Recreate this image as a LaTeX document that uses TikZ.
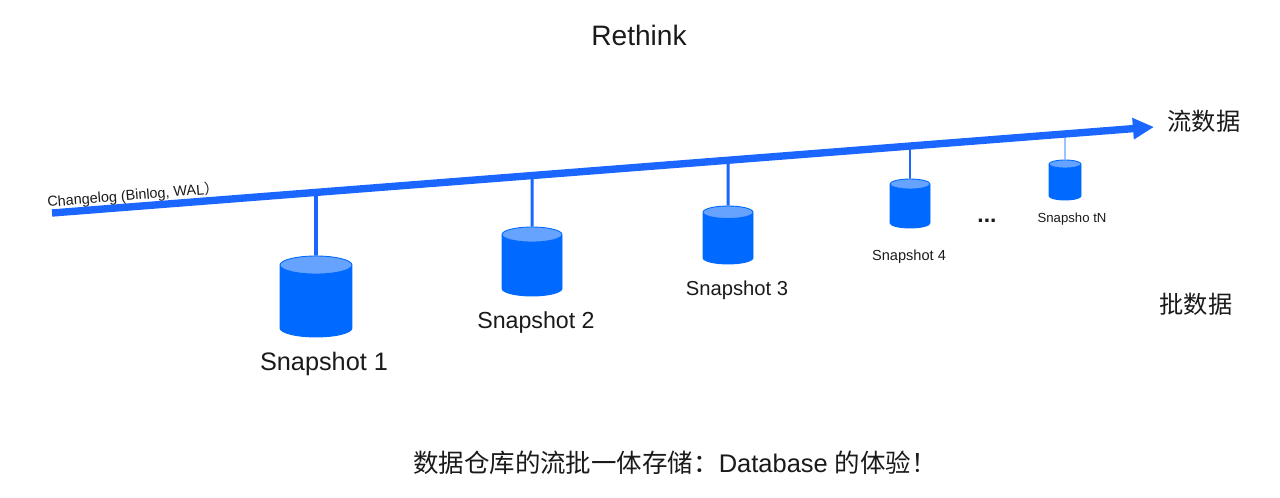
\documentclass[tikz,border=0pt]{standalone}
\usepackage{fontspec}
\setmainfont{Liberation Sans}
\newfontfamily\cjk{Noto Sans CJK SC}
\usetikzlibrary{arrows.meta,shapes.geometric}
\definecolor{flowblue}{HTML}{1A66FF}
\definecolor{snapblue}{HTML}{0069FF}
\definecolor{snaptop}{HTML}{66A3FF}
\definecolor{inkblack}{HTML}{1A1A1A}
\tikzset{
  snapcyl/.style={cylinder, shape border rotate=90, draw=snapblue, line width=0.5pt, inner xsep=#1, inner ysep=0pt,
    anchor=shape center, cylinder uses custom fill, cylinder body fill=snapblue, cylinder end fill=snaptop, shape aspect=0.25},
  lbl/.style={inner sep=0pt, text=inkblack},
  stem/.style={draw=flowblue}
}
\begin{document}
\begin{tikzpicture}[x=0.02cm, y=-0.02cm]
  \useasboundingbox (0,0) rectangle (1280,497);

  \coordinate (start) at (52,213);
  \coordinate (tip) at (1154,127);
  \coordinate (j1) at (316,192);
  \coordinate (j2) at (532,175);
  \coordinate (j3) at (728,160);
  \coordinate (j4) at (910,146);
  \coordinate (jN) at (1065,134);

  \node[snapcyl=0.72cm, minimum height=1.62cm] (s1) at (316,296.5) {};
  \node[snapcyl=0.6cm, minimum height=1.38cm] (s2) at (532,261.5) {};
  \node[snapcyl=0.5cm, minimum height=1.16cm] (s3) at (728,235) {};
  \node[snapcyl=0.4cm, minimum height=0.98cm] (s4) at (910,203.5) {};
  \node[snapcyl=0.32cm, minimum height=0.8cm] (sN) at (1065,180) {};

  \draw[stem, line width=2pt] (j1) -- (s1.north);
  \draw[stem, line width=1.7pt] (j2) -- (s2.north);
  \draw[stem, line width=1.7pt] (j3) -- (s3.north);
  \draw[stem, line width=1.1pt] (j4) -- (s4.north);
  \draw[stem, line width=0.8pt, draw=snaptop] (jN) -- (sN.north);
  \draw[flowblue, line width=4.2pt, -{Triangle[length=12pt, width=11.5pt]}] (start) -- (tip);

  \node[lbl, font=\fontsize{16}{16}\selectfont] (title) at (639,35) {Rethink};
  \node[lbl, font=\fontsize{8.2}{9}\selectfont, rotate=4.5] (log) at (133,195.5) {Changelog (Binlog, WAL{\cjk ）}};
  \node[lbl, font=\fontsize{13.8}{14}\cjk] (stream) at (1204,121) {流数据};
  \node[lbl, font=\fontsize{13.8}{14}\cjk] (batch) at (1196,304) {批数据};
  \node[lbl, font=\fontsize{14.4}{15}\selectfont] (n1) at (324,364) {Snapshot 1};
  \node[lbl, font=\fontsize{13.2}{14}\selectfont] (n2) at (536,322) {Snapshot 2};
  \node[lbl, font=\fontsize{11.5}{12}\selectfont] (n3) at (737,290) {Snapshot 3};
  \node[lbl, font=\fontsize{8.3}{9}\selectfont] (n4) at (909,257) {Snapshot 4};
  \node[lbl, font=\fontsize{7.5}{8}\selectfont] (nN) at (1072,219) {Snapsho tN};
  \node[lbl, font=\fontsize{13}{14}\bfseries] (dots) at (987,221) {...};
  \node[lbl, font=\fontsize{14.5}{15}\selectfont] (caption) at (675,463) {{\cjk 数据仓库的流批一体存储：}Database {\cjk 的体验！}};
\end{tikzpicture}
\end{document}
